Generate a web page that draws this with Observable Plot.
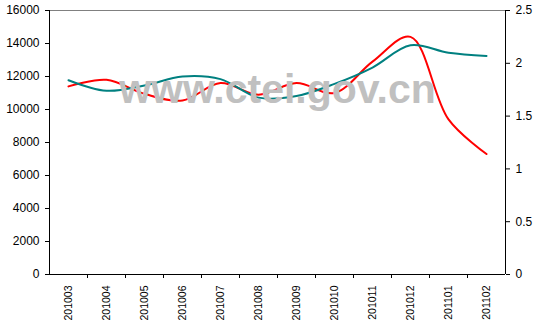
<!DOCTYPE html>
<html>
<head>
<meta charset="utf-8">
<script src="https://cdn.jsdelivr.net/npm/d3@7"></script>
<script src="https://cdn.jsdelivr.net/npm/@observablehq/plot@0.6"></script>
<style>
  html, body { margin: 0; padding: 0; background: #fff; }
  svg { display: block; }
</style>
</head>
<body>
<div id="chart"></div>
<script>
const months = ["201003","201004","201005","201006","201007","201008","201009","201010","201011","201012","201101","201102"];
// red series (left axis)
const redValues = [11400, 11800, 10950, 10550, 11600, 10900, 11600, 11000, 12900, 14400, 9400, 7300];
// teal series (right axis)
const tealValues = [1.84, 1.74, 1.79, 1.875, 1.85, 1.675, 1.69, 1.805, 1.96, 2.17, 2.1, 2.07];
const leftTicks = [0, 2000, 4000, 6000, 8000, 10000, 12000, 14000, 16000];
const rightTicks = [0, 0.5, 1, 1.5, 2, 2.5];
const watermark = "www.ctei.gov.cn";

const leftMax = 16000, rightMax = 2.5;
const k = leftMax / rightMax;

const red = months.map((m, i) => ({i: i + 0.5, v: redValues[i]}));
const teal = months.map((m, i) => ({i: i + 0.5, v: tealValues[i] * k}));
const centers = months.map((m, i) => i + 0.5);
const bounds = d3.range(1, months.length);

const chart = Plot.plot({
  width: 538,
  height: 326,
  marginLeft: 49,
  marginRight: 33,
  marginTop: 10,
  marginBottom: 52,
  style: {fontFamily: "Arial, 'Liberation Sans', sans-serif", background: "#fff"},
  x: {domain: [0, months.length]},
  y: {domain: [0, leftMax]},
  marks: [
    Plot.axisY({ticks: leftTicks, tickFormat: d3.format("d"), tickSize: 4, tickPadding: 6, fontSize: 12, label: null, stroke: "#000"}),
    Plot.axisY({anchor: "right", ticks: rightTicks.map(t => t * k), tickFormat: d => String(d / k), tickSize: 4, tickPadding: 6, fontSize: 12, label: null}),
    Plot.axisX({ticks: bounds, tickSize: 4, tickFormat: () => "", label: null}),
    Plot.axisX({ticks: centers, tickSize: 0, tickPadding: 11, tickRotate: -90, tickFormat: d => months[Math.round(d - 0.5)], fontSize: 10.5, label: null}),
    Plot.ruleY([leftMax], {stroke: "#808080"}),
    Plot.ruleX([0, months.length], {stroke: "#000"}),
    Plot.ruleY([0], {stroke: "#000"}),
    Plot.line(red, {x: "i", y: "v", stroke: "#ff0000", strokeWidth: 2, curve: "catmull-rom"}),
    Plot.line(teal, {x: "i", y: "v", stroke: "#008080", strokeWidth: 2, curve: "catmull-rom"}),
    Plot.text([watermark], {x: months.length / 2, y: 11180, text: d => d, fontSize: 41, fontWeight: "bold", fill: "#c0c0c0", textAnchor: "middle", lineAnchor: "middle"})
  ]
});
document.getElementById("chart").append(chart);
</script>
</body>
</html>
